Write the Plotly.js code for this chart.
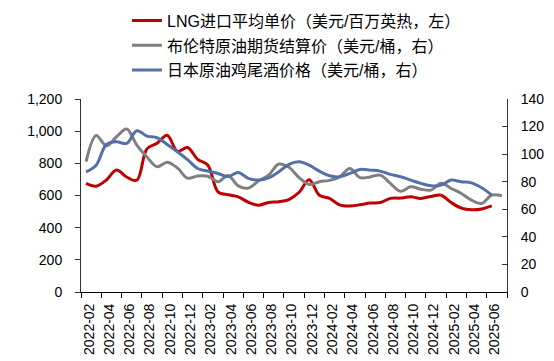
<!DOCTYPE html>
<html><head><meta charset="utf-8">
<script src="https://cdn.plot.ly/plotly-3.0.1.min.js"></script>
<style>html,body{margin:0;padding:0;background:#fff}</style>
</head><body><div id="chart" style="width:554px;height:361px"></div>
<script>
const months = ["2022-02","2022-03","2022-04","2022-05","2022-06","2022-07","2022-08","2022-09","2022-10","2022-11","2022-12",
"2023-01","2023-02","2023-03","2023-04","2023-05","2023-06","2023-07","2023-08","2023-09","2023-10","2023-11","2023-12",
"2024-01","2024-02","2024-03","2024-04","2024-05","2024-06","2024-07","2024-08","2024-09","2024-10","2024-11","2024-12",
"2025-01","2025-02","2025-03","2025-04","2025-05","2025-06","2025-07"];
const lngPrice = [675,658,696,758,715,695,890,925,975,875,898,825,790,623,605,592,558,540,557,561,575,620,698,602,582,542,535,542,553,556,582,584,592,582,594,602,556,522,511,516,535];
const brentPrice = [94.5,113.5,106,112.6,118.2,106.6,98,90.8,94.2,90,82.6,84.2,84,80,84.5,77,75.4,80.5,84.8,92.8,90.5,83,78,80,81,83.5,89.6,83,83.5,84.8,78.8,73,76.3,74.6,73.9,78.8,75.1,71.5,66.6,64.2,70.3,69.8];
const japanCocktail = [87.2,92,107,109,107.8,117,113.1,111.9,107,101.7,96,89.6,87.7,86,83.6,86.7,82.4,81.2,82.8,87.2,92.6,94.5,92,87.7,84.3,83.6,86,88.9,88.4,87.7,85.3,83.6,81.2,78.8,77,77.5,81.2,79.9,79.2,75.6,70.3];
const seriesNames = ["LNG进口平均单价（美元/百万英热，左）","布伦特原油期货结算价（美元/桶，右）","日本原油鸡尾酒价格（美元/桶，右）"];
const seriesColors = ["#C00000","#808080","#5470A8"];

const FONT = "Liberation Sans, Arial, Noto Sans CJK SC, sans-serif";
const traces = [
  {x: months.slice(0, lngPrice.length), y: lngPrice, name: seriesNames[0], yaxis: "y", legendgroup: "a"},
  {x: months.slice(0, brentPrice.length), y: brentPrice, name: seriesNames[1], yaxis: "y2", legendgroup: "b"},
  {x: months.slice(0, japanCocktail.length), y: japanCocktail, name: seriesNames[2], yaxis: "y2", legendgroup: "c"}
].map((t, i) => Object.assign(t, {type: "scatter", mode: "lines",
  line: {color: seriesColors[i], width: 3, shape: "spline", smoothing: 1}}));

const layout = {
  width: 554, height: 361,
  margin: {l: 81.3, r: 46.7, t: 99, b: 69.3, pad: 0, autoexpand: false},
  paper_bgcolor: "#fff", plot_bgcolor: "#fff",
  font: {family: FONT, size: 14, color: "#000"},
  showlegend: true,
  legend: {xref: "container", yref: "container", x: 0.2292, xanchor: "left", y: 0.99, yanchor: "top", orientation: "v",
    font: {family: FONT, size: 16, color: "#000"}, tracegroupgap: 1, bgcolor: "rgba(0,0,0,0)"},
  xaxis: {type: "category", categoryorder: "array", categoryarray: months, range: [-0.5, 41.5],
    tickmode: "linear", tick0: 0, dtick: 2, tickson: "boundaries", tickangle: -90,
    ticks: "outside", ticklen: 5, tickcolor: "#000", showline: true, linecolor: "#000", linewidth: 1,
    showgrid: false, zeroline: false, ticklabelshift: 3, ticklabelstandoff: 5,
    tickfont: {family: FONT, size: 14, color: "#000"}},
  yaxis: {range: [0, 1200], tickmode: "linear", tick0: 0, dtick: 200, tickformat: ",",
    ticks: "outside", ticklen: 5, tickcolor: "#333", showline: true, linecolor: "#333", linewidth: 1,
    showgrid: false, zeroline: false, ticklabelstandoff: 10,
    tickfont: {family: FONT, size: 14, color: "#000"}},
  yaxis2: {range: [0, 140], overlaying: "y", side: "right", tickmode: "linear", tick0: 0, dtick: 20,
    ticks: "inside", ticklen: 5, tickcolor: "#333", showline: true, linecolor: "#333", linewidth: 1,
    showgrid: false, zeroline: false, ticklabelstandoff: 10,
    tickfont: {family: FONT, size: 14, color: "#000"}}
};
Plotly.newPlot("chart", traces, layout, {displayModeBar: false, staticPlot: true});
</script></body></html>
